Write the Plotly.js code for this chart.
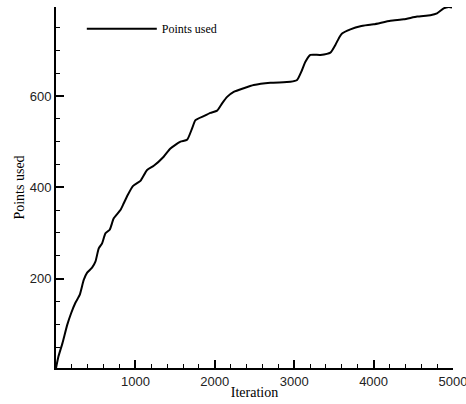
<!DOCTYPE html>
<html>
<head>
<meta charset="utf-8">
<script src="https://cdn.plot.ly/plotly-3.0.1.min.js"></script>
<style>html,body{margin:0;padding:0;background:#fff;}#chart{width:466px;height:404px;}</style>
</head>
<body>
<div id="chart"></div>
<script>
const iterations = [0,30,80,140,190,244,298,349,392,454,496,538,580,622,676,727,811,853,903,971,1063,1147,1231,1356,1441,1567,1651,1714,1756,1861,1945,2029,2092,2155,2238,2364,2490,2700,2952,3036,3099,3141,3204,3330,3456,3519,3573,3603,3708,3834,4001,4212,4380,4548,4715,4799,4883,4946,4988];
const pointsUsed = [4,29,58,98,124,147,164,197,213,224,237,266,277,299,307,332,350,365,383,403,414,438,447,467,485,500,504,529,547,556,563,568,584,598,609,617,624,629,631,635,657,675,690,690,695,712,730,737,746,753,757,765,768,774,777,781,792,795,794];
const xTicks = [1000,2000,3000,4000,5000];
const yTicks = [200,400,600];

const trace = {
  x: iterations, y: pointsUsed, type: 'scatter', mode: 'lines',
  name: 'Points used',
  line: {color: '#000', width: 2, shape: 'spline', smoothing: 0.5}
};
const layout = {
  width: 466, height: 404,
  margin: {l: 56, r: 13, t: 7, b: 36},
  paper_bgcolor: '#fff', plot_bgcolor: '#fff',
  showlegend: true,
  legend: {x: 0.065, y: 0.98, xanchor: 'left', yanchor: 'top', bgcolor: 'rgba(0,0,0,0)',
           font: {family: 'Liberation Serif', size: 12, color: '#000'}, itemwidth: 70},
  xaxis: {
    range: [-0.5, 5000.5], tickvals: xTicks, ticks: 'inside', ticklen: 8, tickwidth: 2, tickcolor: '#000',
    showline: true, linecolor: '#000', linewidth: 2, showgrid: false, zeroline: false,
    ticklabeloverflow: 'allow',
    tickfont: {family: 'Liberation Sans', size: 13, color: '#222'},
    minor: {dtick: 200, ticks: 'inside', ticklen: 4, tickwidth: 1, tickcolor: '#000', showgrid: false},
    title: {text: 'Iteration', font: {family: 'Liberation Serif', size: 14, color: '#000'}, standoff: 0}
  },
  yaxis: {
    range: [4, 795], tickvals: yTicks, ticks: 'inside', ticklen: 8, tickwidth: 2, tickcolor: '#000',
    showline: true, linecolor: '#000', linewidth: 2, showgrid: false, zeroline: false,
    tickfont: {family: 'Liberation Sans', size: 13, color: '#222'},
    minor: {dtick: 50, ticks: 'inside', ticklen: 4, tickwidth: 1, tickcolor: '#000', showgrid: false},
    title: {text: 'Points used', font: {family: 'Liberation Serif', size: 14, color: '#000'}, standoff: 2}
  }
};
Plotly.newPlot('chart', [trace], layout, {displayModeBar: false, staticPlot: true});
</script>
</body>
</html>
